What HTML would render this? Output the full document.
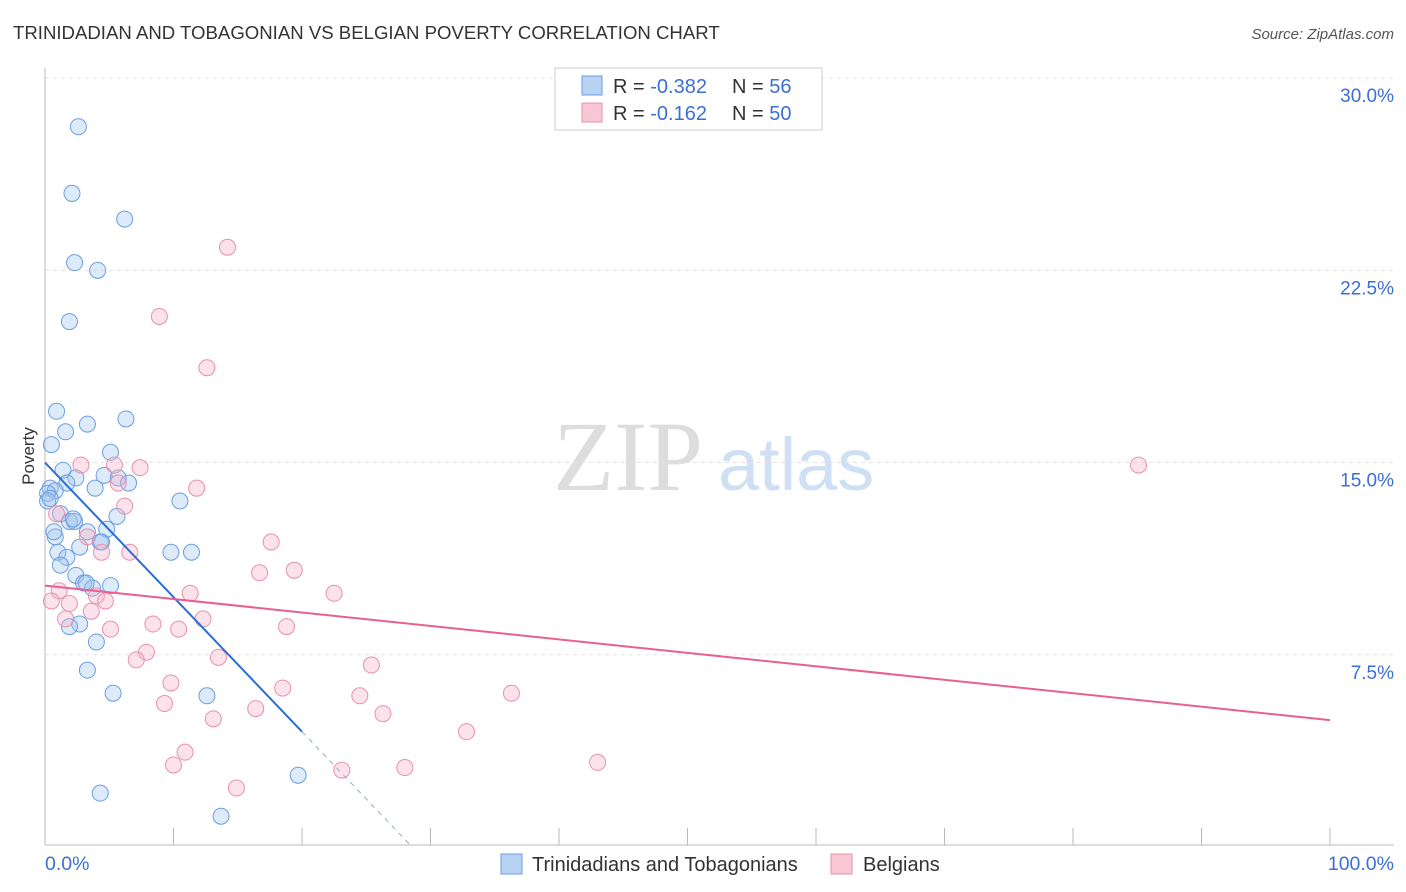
<!DOCTYPE html>
<html><head><meta charset="utf-8"><style>
body{margin:0;background:#fff;font-family:"Liberation Sans",sans-serif;}
svg{display:block}
</style></head><body>
<svg id="c" width="1406" height="892">
<text x="13" y="39" font-size="18.6" fill="#333">TRINIDADIAN AND TOBAGONIAN VS BELGIAN POVERTY CORRELATION CHART</text>
<text x="1394" y="39" font-size="15" fill="#555" font-style="italic" text-anchor="end">Source: ZipAtlas.com</text>
<text x="553" y="490" font-size="100" fill="#ddd" font-family="Liberation Serif">ZIP</text>
<text x="718" y="490" font-size="74" fill="#cfe0f5">atlas</text>
<g id="grid"></g><g id="axes"></g><g id="pts"></g><g id="trend"></g>
<text transform="translate(34,456) rotate(-90)" font-size="17" fill="#333" text-anchor="middle">Poverty</text>
<text x="45" y="870" font-size="19.5" fill="#3b6fd4">0.0%</text>
<text x="1394" y="870" font-size="19.5" fill="#3b6fd4" text-anchor="end">100.0%</text>
<g>
<rect x="555" y="68" width="267" height="62" fill="#fff" stroke="#ccc"/>
<rect x="582" y="76" width="20" height="19" fill="#b8d2f4" stroke="#6a9ee0"/>
<rect x="582" y="103" width="20" height="19" fill="#f9c6d6" stroke="#e890aa"/>
<text x="613" y="93" font-size="20" fill="#333">R = <tspan fill="#3b6fd4">-0.382</tspan><tspan x="732">N = </tspan><tspan fill="#3b6fd4">56</tspan></text>
<text x="613" y="120" font-size="20" fill="#333">R = <tspan fill="#3b6fd4"> -0.162</tspan><tspan x="732">N = </tspan><tspan fill="#3b6fd4">50</tspan></text>
</g>
<g>
<rect x="501" y="854" width="21" height="20" fill="#b8d2f4" stroke="#6a9ee0"/>
<text x="532" y="871" font-size="20" fill="#333">Trinidadians and Tobagonians</text>
<rect x="831" y="854" width="21" height="20" fill="#f9c6d6" stroke="#e890aa"/>
<text x="863" y="871" font-size="20" fill="#333">Belgians</text>
</g>
</svg>
<script>
const yTicks=[7.5,15,22.5,30];
const yTickLabels=["7.5%","15.0%","22.5%","30.0%"];
const blueX=[2.6,2.1,6.2,2.3,4.1,1.9,0.9,6.3,3.3,1.6,0.5,5.1,1.4,2.4,4.6,5.7,6.5,0.4,1.7,3.9,0.8,0.2,0.2,10.5,5.6,1.2,1.9,2.3,3.3,4.8,0.8,4.3,4.4,2.7,1.0,9.8,11.4,1.7,1.2,2.4,3.0,5.1,3.7,2.7,1.9,4.0,3.3,5.3,12.6,19.7,4.3,13.7,0.7,0.4,2.2,3.2];
const blueY=[28.1,25.5,24.5,22.8,22.5,20.5,17.0,16.7,16.5,16.2,15.7,15.4,14.7,14.4,14.5,14.4,14.2,14.0,14.2,14.0,13.9,13.8,13.5,13.5,12.9,13.0,12.7,12.7,12.3,12.4,12.1,11.9,11.9,11.7,11.5,11.5,11.5,11.3,11.0,10.6,10.3,10.2,10.1,8.7,8.6,8.0,6.9,6.0,5.9,2.8,2.1,1.2,12.3,13.6,12.8,10.3];
const pinkX=[14.2,8.9,12.6,85.1,2.8,5.4,7.4,5.7,11.8,6.2,0.9,3.3,17.6,6.6,4.4,16.7,19.4,22.5,11.3,1.1,0.5,1.9,4.0,3.6,12.3,1.6,8.4,18.8,5.1,10.4,7.9,13.5,7.1,25.4,9.8,18.5,24.5,36.3,9.3,16.4,26.3,13.1,32.8,10.9,10.0,23.1,28.0,43.0,14.9,4.7];
const pinkY=[23.4,20.7,18.7,14.9,14.9,14.9,14.8,14.2,14.0,13.3,13.0,12.1,11.9,11.5,11.5,10.7,10.8,9.9,9.9,10.0,9.6,9.5,9.8,9.2,8.9,8.9,8.7,8.6,8.5,8.5,7.6,7.4,7.3,7.1,6.4,6.2,5.9,6.0,5.6,5.4,5.2,5.0,4.5,3.7,3.2,3.0,3.1,3.3,2.3,9.6];
const blueTrend=[15.0,-0.525];
const pinkTrend=[10.2,4.95];
const X=v=>45+v*12.85, Y=v=>847-v*25.63;
const NS="http://www.w3.org/2000/svg";
function mk(t,a,p){const e=document.createElementNS(NS,t);for(const k in a)e.setAttribute(k,a[k]);p.appendChild(e);return e;}
const grid=document.getElementById('grid'),axes=document.getElementById('axes'),pts=document.getElementById('pts'),tr=document.getElementById('trend');
yTicks.forEach((t,i)=>{
 const l=mk('line',{x1:45,x2:1394,y1:Y(t),y2:Y(t),stroke:'#e4e4e4','stroke-dasharray':'4,4'},grid);
 
 
 const tx=mk('text',{x:1394,y:Y(t)+24,'font-size':19,fill:'#3b6fd4','text-anchor':'end'},grid);
 tx.textContent=yTickLabels[i];
 
 
});
const ax=mk('line',{x1:45,x2:1394,y1:845,y2:845,stroke:'#bbb'},axes);


const ay=mk('line',{x1:45,x2:45,y1:68,y2:845,stroke:'#bbb'},axes);


for(let i=0;i<=10;i++){const t=mk('line',{x1:X(i*10),x2:X(i*10),y1:828,y2:845,stroke:'#bbb'},axes);
 
 }
function dots(xs,ys,fill,stroke,name){xs.forEach((x,i)=>{const c=mk('circle',{cx:X(x),cy:Y(ys[i]),r:8,fill:fill,'fill-opacity':0.35,stroke:stroke,'stroke-width':1},pts);
 
 });}
dots(blueX,blueY,'#9fc2ef','#6a9ee0','trinidadian-point');
dots(pinkX,pinkY,'#f6b0c6','#e890aa','belgian-point');
const bEnd=20, bZero=-blueTrend[0]/blueTrend[1];
const b1=mk('line',{x1:X(0),y1:Y(blueTrend[0]),x2:X(bEnd),y2:Y(blueTrend[0]+blueTrend[1]*bEnd),stroke:'#2a6dd9','stroke-width':2},tr);


const b2=mk('line',{x1:X(bEnd),y1:Y(blueTrend[0]+blueTrend[1]*bEnd),x2:X(bZero),y2:Y(0),stroke:'#9ab','stroke-width':1,'stroke-dasharray':'5,5'},tr);


const p1=mk('line',{x1:X(0),y1:Y(pinkTrend[0]),x2:X(100),y2:Y(pinkTrend[1]),stroke:'#e8608f','stroke-width':2},tr);


</script>
</body></html>
